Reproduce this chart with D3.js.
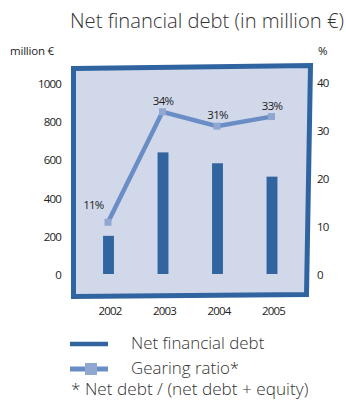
<!DOCTYPE html>
<html>
<head>
<meta charset="utf-8">
<script src="https://cdn.jsdelivr.net/npm/d3@7"></script>
<style>
  html, body { margin: 0; padding: 0; background: #fff; }
  svg { display: block; }
  .num { font-family: "Open Sans", sans-serif; font-size: 11.5px; letter-spacing: -0.8px; fill: #222; }
  .lt { font-family: "Open Sans", sans-serif; font-weight: 300; fill: #333; }
</style>
</head>
<body>
<svg id="chart" width="346" height="401"></svg>
<script>
const years = ["2002", "2003", "2004", "2005"];
const debt = [205, 642, 585, 515];
const gearing = [11, 34, 31, 33];
const leftTicks = [0, 200, 400, 600, 800, 1000];
const rightTicks = [0, 10, 20, 30, 40];

const svg = d3.select("#chart");

const x = d3.scaleBand().domain(years).range([81.25, 299.25]).paddingInner(0.8).paddingOuter(0.4);
const yL = d3.scaleLinear().domain([0, 1000]).range([275, 84]);
const yR = d3.scaleLinear().domain([0, 40]).range([275, 83]);
const cx = (d) => x(d) + x.bandwidth() / 2;

// title
svg.append("text").attr("class", "lt")
  .attr("x", 70).attr("y", 28)
  .attr("font-size", 20.2)
  .text("Net financial debt (in million €)");

svg.append("text").attr("class", "num").attr("x", 10).attr("y", 55)
  .style("letter-spacing", "-0.2px").text("million €");
svg.append("text").attr("class", "num").attr("x", 318).attr("y", 55).text("%");

// hand drawn frame
const frame = [[73.5, 68.5], [310.5, 65.5], [306.5, 294.5], [73.5, 296.5]];
svg.append("path")
  .attr("d", d3.line()(frame) + "Z")
  .attr("fill", "#d1d8ea")
  .attr("stroke", "#2f64a0")
  .attr("stroke-width", 5)
  .attr("stroke-linejoin", "miter");

// axes labels
svg.append("g").selectAll("text").data(leftTicks).join("text")
  .attr("class", "num")
  .attr("x", 61).attr("y", (d) => yL(d))
  .attr("dy", "0.35em")
  .attr("text-anchor", "end")
  .text((d) => d);

svg.append("g").selectAll("text").data(rightTicks).join("text")
  .attr("class", "num")
  .attr("x", 317).attr("y", (d) => yR(d))
  .attr("dy", "0.35em")
  .text((d) => d);

svg.append("g").selectAll("text").data(years).join("text")
  .attr("class", "num")
  .attr("x", (d) => cx(d) + 1.5).attr("y", 315)
  .attr("text-anchor", "middle")
  .text((d) => d);

// bars
svg.append("g").selectAll("rect").data(debt).join("rect")
  .attr("x", (d, i) => x(years[i]))
  .attr("width", x.bandwidth())
  .attr("y", (d) => yL(d))
  .attr("height", (d) => yL(0) - yL(d) - 1)
  .attr("fill", "#3265a0");

// gearing line
const line = d3.line()
  .x((d, i) => cx(years[i]) - 0.5)
  .y((d) => yR(d));

svg.append("path")
  .datum(gearing)
  .attr("d", line)
  .attr("fill", "none")
  .attr("stroke", "#6b8dc5")
  .attr("stroke-width", 4.5);

svg.append("g").selectAll("rect").data(gearing).join("rect")
  .attr("x", (d, i) => cx(years[i]) - 0.5 - 3.5)
  .attr("y", (d) => yR(d) - 3.5)
  .attr("width", 7).attr("height", 7)
  .attr("fill", "#90a7d2");

svg.append("g").selectAll("text").data(gearing).join("text")
  .attr("class", "num")
  .attr("x", (d, i) => i === 0 ? cx(years[i]) - 5 : cx(years[i]))
  .attr("y", (d, i) => i === 0 ? yR(d) - 13 : yR(d) - 7)
  .attr("text-anchor", (d, i) => i === 0 ? "end" : "middle")
  .text((d) => d + "%");

// legend
const lg = svg.append("g");
lg.append("line").attr("x1", 70).attr("x2", 108).attr("y1", 344).attr("y2", 344)
  .attr("stroke", "#3265a0").attr("stroke-width", 4.5);
lg.append("line").attr("x1", 70).attr("x2", 108).attr("y1", 369).attr("y2", 369)
  .attr("stroke", "#6b8dc5").attr("stroke-width", 5);
lg.append("rect").attr("x", 85).attr("y", 363).attr("width", 12).attr("height", 12)
  .attr("fill", "#90a7d2");
lg.append("text").attr("class", "lt").attr("x", 131).attr("y", 349).attr("font-size", 16.9)
  .text("Net financial debt");
lg.append("text").attr("class", "lt").attr("x", 131).attr("y", 374).attr("font-size", 16.9)
  .text("Gearing ratio*");
lg.append("text").attr("class", "lt").attr("x", 71).attr("y", 395).attr("font-size", 17.2)
  .text("* Net debt / (net debt + equity)");
</script>
</body>
</html>
